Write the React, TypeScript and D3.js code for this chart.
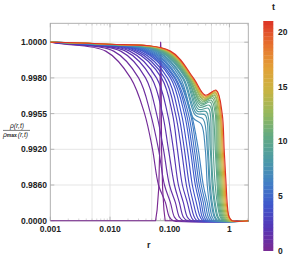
import React from 'react';
import * as d3 from 'd3';

// time of each profile (colour key)
const T = [0, 0.4, 0.8, 1.2, 1.6, 2.0, 2.5, 3.0, 3.5, 4.0, 4.5, 5.0, 5.5, 6.0, 6.5, 7.0,
  7.5, 8.0, 8.5, 9.0, 9.5, 10.0, 10.5, 11.0, 11.6, 12.3, 13.1, 14.2, 15.6, 17.5, 21];

const LEVELS = [0.9999, 0.9995, 0.998, 0.9955, 0.992, 0.986, 0.5, 0.1, 0];

// r at which each early profile crosses LEVELS
const EARLY_R = [
  [0.00163, 0.00848, 0.0221, 0.0379, 0.0515, 0.0649, 0.0849, 0.0989, 0.1154],
  [0.00190, 0.0115, 0.0301, 0.0477, 0.0649, 0.0817, 0.1028, 0.1199, 0.1398],
  [0.00213, 0.0151, 0.0394, 0.0601, 0.0786, 0.0989, 0.1246, 0.1452, 0.1693],
  [0.00239, 0.0183, 0.0496, 0.0756, 0.0952, 0.1199, 0.1452, 0.1693, 0.1974],
  [0.00258, 0.0213, 0.0601, 0.0916, 0.1154, 0.1398, 0.1693, 0.1974, 0.2301],
  [0.00279, 0.0248, 0.0728, 0.1110, 0.1345, 0.1629, 0.1974, 0.2301, 0.2582],
  [0.00301, 0.0279, 0.0817, 0.1246, 0.1568, 0.1900, 0.2215, 0.2582, 0.2897],
  [0.00324, 0.0313, 0.0916, 0.1398, 0.1759, 0.2131, 0.2485, 0.2897, 0.3250],
  [0.00351, 0.0351, 0.1028, 0.1568, 0.1974, 0.2391, 0.2788, 0.3250, 0.3647],
  [0.00379, 0.0379, 0.1110, 0.1759, 0.2215, 0.2683, 0.3128, 0.3509, 0.3937],
  [0.00409, 0.0409, 0.1199, 0.1900, 0.2391, 0.2897, 0.3377, 0.3789, 0.4251],
  [0.00442, 0.0442, 0.1246, 0.2051, 0.2582, 0.3128, 0.3647, 0.4091, 0.4590],
  [0.00475, 0.0477, 0.1345, 0.2215, 0.2788, 0.3377, 0.3937, 0.4418, 0.4956],
  [0.00515, 0.0515, 0.1398, 0.2301, 0.3010, 0.3647, 0.4251, 0.4770, 0.5352],
];

// later profiles with the dip and bump, as [r, rho/rho_max]
const LATE_CURVES: [number, number][][] = [
  [[0.00535, 0.9999], [0.0556, 0.9995], [0.1509, 0.998], [0.2485, 0.99505], [0.3377, 0.99446], [0.3937, 0.992], [0.4251, 0.986], [0.4590, 0.5], [0.5150, 0.1], [0.5778, 0]],
  [[0.00556, 0.9999], [0.0601, 0.9995], [0.1629, 0.998], [0.2683, 0.99534], [0.3647, 0.99495], [0.4251, 0.992], [0.4590, 0.986], [0.4956, 0.5], [0.5561, 0.1], [0.6239, 0]],
  [[0.00578, 0.9999], [0.0624, 0.9995], [0.1693, 0.998], [0.2788, 0.99553], [0.3937, 0.99534], [0.4418, 0.992], [0.4770, 0.986], [0.5150, 0.5], [0.5778, 0.1], [0.6483, 0]],
  [[0.00601, 0.9999], [0.0674, 0.9995], [0.1828, 0.998], [0.2897, 0.99567], [0.4091, 0.99563], [0.4770, 0.992], [0.5150, 0.986], [0.5561, 0.5], [0.6239, 0.1], [0.7000, 0]],
  [[0.00624, 0.9999], [0.0700, 0.9995], [0.1900, 0.998], [0.3010, 0.99581], [0.4418, 0.99588], [0.4770, 0.9955], [0.4956, 0.992], [0.5352, 0.986], [0.5778, 0.5], [0.6483, 0.1], [0.7274, 0]],
  [[0.00649, 0.9999], [0.0728, 0.9995], [0.1974, 0.998], [0.3128, 0.99595], [0.4590, 0.99609], [0.5150, 0.9955], [0.5352, 0.992], [0.5778, 0.986], [0.6239, 0.5], [0.7000, 0.1], [0.7854, 0]],
  [[0.00674, 0.9999], [0.0756, 0.9995], [0.1974, 0.998], [0.3250, 0.99609], [0.4770, 0.99630], [0.5352, 0.9955], [0.5778, 0.992], [0.6239, 0.986], [0.6483, 0.5], [0.7274, 0.1], [0.8161, 0]],
  [[0.00698, 0.9999], [0.0786, 0.9995], [0.2051, 0.998], [0.3377, 0.99619], [0.4956, 0.99644], [0.5778, 0.9955], [0.6004, 0.992], [0.6483, 0.986], [0.6737, 0.5], [0.7558, 0.1], [0.8480, 0]],
  [[0.00728, 0.9999], [0.0817, 0.9995], [0.2131, 0.998], [0.3377, 0.99630], [0.5150, 0.99658], [0.6004, 0.9955], [0.6239, 0.992], [0.6737, 0.986], [0.7000, 0.5], [0.7854, 0.1], [0.8811, 0]],
  [[0.00728, 0.9999], [0.0849, 0.9995], [0.2131, 0.998], [0.3509, 0.99637], [0.5352, 0.99668], [0.6239, 0.9955], [0.6483, 0.992], [0.7000, 0.986], [0.7274, 0.5], [0.8161, 0.1], [0.9156, 0]],
  [[0.00756, 0.9999], [0.0882, 0.9995], [0.2215, 0.998], [0.3647, 0.99644], [0.5561, 0.99679], [0.6483, 0.9955], [0.6737, 0.992], [0.7274, 0.986], [0.7558, 0.5], [0.8480, 0.1], [0.9514, 0]],
  [[0.00756, 0.9999], [0.0916, 0.9995], [0.2301, 0.998], [0.3647, 0.99651], [0.5561, 0.99689], [0.6737, 0.9955], [0.7000, 0.992], [0.7558, 0.986], [0.7854, 0.5], [0.8811, 0.1], [0.9886, 0]],
  [[0.00786, 0.9999], [0.0952, 0.9995], [0.2301, 0.998], [0.3789, 0.99658], [0.5778, 0.99696], [0.7000, 0.9955], [0.7274, 0.992], [0.7854, 0.986], [0.8161, 0.5], [0.9156, 0.1], [1.027, 0]],
  [[0.00786, 0.9999], [0.0952, 0.9995], [0.2391, 0.998], [0.3789, 0.99665], [0.5778, 0.99703], [0.7000, 0.9955], [0.7558, 0.992], [0.8161, 0.986], [0.8480, 0.5], [0.9514, 0.1], [1.067, 0]],
  [[0.00817, 0.9999], [0.0989, 0.9995], [0.2391, 0.998], [0.3937, 0.99672], [0.6004, 0.99710], [0.7274, 0.9955], [0.7854, 0.992], [0.8480, 0.986], [0.8811, 0.5], [0.9886, 0.1], [1.109, 0]],
  [[0.00817, 0.9999], [0.1028, 0.9995], [0.2485, 0.998], [0.3937, 0.99679], [0.6004, 0.99714], [0.7558, 0.9955], [0.8161, 0.992], [0.8811, 0.986], [0.9156, 0.5], [0.9886, 0.1], [1.109, 0]],
];

// initial spike (t = 0)
const SPIKE_R = [0.001, 0.058, 0.0615, 0.0655, 0.068, 0.0695, 0.0705, 0.0715, 0.073, 0.076, 0.080, 0.084, 2.1];
const SPIKE_V = [0, 0, 0.3, 0.9, 0.992, 0.9995, 1.0, 0.9995, 0.992, 0.9, 0.3, 0, 0];

const Y_TICKS = [0, 0.986, 0.992, 0.9955, 0.998, 1.0];
const Y_LABELS = ['0.0000', '0.9860', '0.9920', '0.9955', '0.9980', '1.0000'];
const X_TICKS = [0.001, 0.01, 0.1, 1];
const X_LABELS = ['0.001', '0.010', '0.100', '1'];
const X_GRID = [0.005, 0.01, 0.05, 0.1, 0.5, 1];
const CB_TICKS = [0, 5, 10, 15, 20];
const RAINBOW = ['#7b2a92', '#5535b5', '#3f57cc', '#4281c4', '#4d9ba4', '#63aa82',
  '#96b85d', '#c9b442', '#e3a037', '#e6702f', '#dc3326'];

const FONT = '"Liberation Sans", Arial, sans-serif';

const App: React.FC = () => {
  const width = 292, height = 271;
  const plot = { left: 50.3, right: 248.3, top: 23.3, bottom: 220.7 };
  const step = (plot.bottom - 42.2) / 5;

  const x = d3.scaleLog().domain([0.001, 2.07]).range([plot.left, plot.right]);
  // evenly spaced, non-linear value axis
  const y = d3.scaleLinear()
    .domain(Y_TICKS)
    .range(Y_TICKS.map((_, i) => plot.bottom - i * step));

  const tMax = 21;
  const rainbow = d3.piecewise(d3.interpolateRgb, RAINBOW);
  const color = (t: number) => rainbow(Math.max(0, Math.min(1, t / tMax)));

  const line = d3.line<[number, number]>()
    .x(d => x(d[0]))
    .y(d => y(d[1]))
    .curve(d3.curveCatmullRom.alpha(0.5));
  const spikeLine = d3.line<[number, number]>()
    .x(d => x(d[0]))
    .y(d => y(d[1]));

  const curves: { t: number; pts: [number, number][] }[] = [];
  EARLY_R.forEach((rs, i) => {
    const pts: [number, number][] = [[0.001, 1], ...rs.map((r, k) => [r, LEVELS[k]] as [number, number]), [2.1, 0]];
    curves.push({ t: T[i + 1], pts });
  });
  LATE_CURVES.forEach((c, i) => {
    const pts: [number, number][] = [[0.001, 1], ...c, [2.1, 0]];
    curves.push({ t: T[i + 1 + EARLY_R.length], pts });
  });
  const spike: [number, number][] = SPIKE_R.map((r, i) => [r, SPIKE_V[i]]);

  const minorTicks: number[] = [];
  [0.001, 0.01, 0.1, 1].forEach(d => {
    for (let k = 2; k <= 9; k++) if (d * k <= 2.07) minorTicks.push(d * k);
  });

  const cb = { x: 263.3, w: 10, top: 21, bottom: 250.7 };
  const cbY = d3.scaleLinear().domain([0, tMax]).range([cb.bottom, cb.top]);
  const bands = d3.range(0, tMax, 0.35);

  return (
    <svg width={width} height={height} style={{ position: 'absolute', left: 0, top: 0, background: '#fff' }}
      fontFamily={FONT}>
      <defs>
        <clipPath id="plotClip">
          <rect x={plot.left} y={plot.top} width={plot.right - plot.left} height={plot.bottom - plot.top + 1.5} />
        </clipPath>
      </defs>

      {/* grid */}
      {X_GRID.map(g => (
        <line key={'gx' + g} x1={x(g)} x2={x(g)} y1={plot.top} y2={plot.bottom} stroke="#e2e2e2" strokeWidth={0.9} />
      ))}
      {Y_TICKS.map(v => (
        <line key={'gy' + v} x1={plot.left} x2={plot.right} y1={y(v)} y2={y(v)} stroke="#e2e2e2" strokeWidth={0.9} />
      ))}

      {/* frame + ticks */}
      <rect x={plot.left} y={plot.top} width={plot.right - plot.left} height={plot.bottom - plot.top}
        fill="none" stroke="#a8a8a8" strokeWidth={0.9} />
      {X_TICKS.map(v => (
        <g key={'tx' + v} stroke="#a8a8a8" strokeWidth={0.8}>
          <line x1={x(v)} x2={x(v)} y1={plot.top} y2={plot.top + 4} />
          <line x1={x(v)} x2={x(v)} y1={plot.bottom} y2={plot.bottom - 4} />
        </g>
      ))}
      {minorTicks.map(v => (
        <g key={'mx' + v} stroke="#b8b8b8" strokeWidth={0.6}>
          <line x1={x(v)} x2={x(v)} y1={plot.top} y2={plot.top + 2.2} />
          <line x1={x(v)} x2={x(v)} y1={plot.bottom} y2={plot.bottom - 2.2} />
        </g>
      ))}
      {Y_TICKS.map(v => (
        <g key={'ty' + v} stroke="#a8a8a8" strokeWidth={0.8}>
          <line x1={plot.left} x2={plot.left + 4} y1={y(v)} y2={y(v)} />
          <line x1={plot.right} x2={plot.right - 4} y1={y(v)} y2={y(v)} />
        </g>
      ))}

      {/* profiles */}
      <g clipPath="url(#plotClip)" fill="none" strokeWidth={1.15} strokeLinejoin="round">
        <path d={spikeLine(spike) || ''} stroke={color(T[0])} />
        {curves.map((c, i) => (
          <path key={i} d={line(c.pts) || ''} stroke={color(c.t)} />
        ))}
      </g>

      {/* tick labels */}
      {Y_TICKS.map((v, i) => (
        <text key={'ly' + v} x={47} y={y(v) + 3} textAnchor="end" fontSize={8.5} fontWeight="bold" fill="#222">
          {Y_LABELS[i]}
        </text>
      ))}
      {X_TICKS.map((v, i) => (
        <text key={'lx' + v} x={x(v)} y={232} textAnchor="middle" fontSize={8.5} fontWeight="bold" fill="#222">
          {X_LABELS[i]}
        </text>
      ))}
      <text x={148.7} y={248} textAnchor="middle" fontSize={9} fontWeight="bold" fill="#222">r</text>

      {/* y label as a fraction */}
      <g fill="#222">
        <text x={17} y={128} textAnchor="middle" fontSize={6.8} fontStyle="italic">ρ(r,t)</text>
        <line x1={3} x2={30} y1={130.4} y2={130.4} stroke="#222" strokeWidth={0.6} />
        <text x={15.5} y={137} textAnchor="middle" fontSize={6.8}>
          <tspan fontStyle="italic">ρ</tspan>
          <tspan fontSize={5} fontWeight="bold">max</tspan>
          <tspan fontStyle="italic" dx={1}>(r,t)</tspan>
        </text>
      </g>

      {/* colour bar */}
      {bands.map(b => (
        <rect key={'cb' + b} x={cb.x} width={cb.w} y={cbY(Math.min(tMax, b + 0.35))}
          height={cbY(b) - cbY(Math.min(tMax, b + 0.35)) + 0.3} fill={color(b + 0.175)} />
      ))}
      {CB_TICKS.map(v => (
        <text key={'cbt' + v} x={278} y={cbY(v) + 3} fontSize={8.5} fontWeight="bold" fill="#222">{v}</text>
      ))}
      <text x={273.5} y={10} textAnchor="middle" fontSize={9} fontWeight="bold" fill="#222">t</text>
    </svg>
  );
};

export default App;
